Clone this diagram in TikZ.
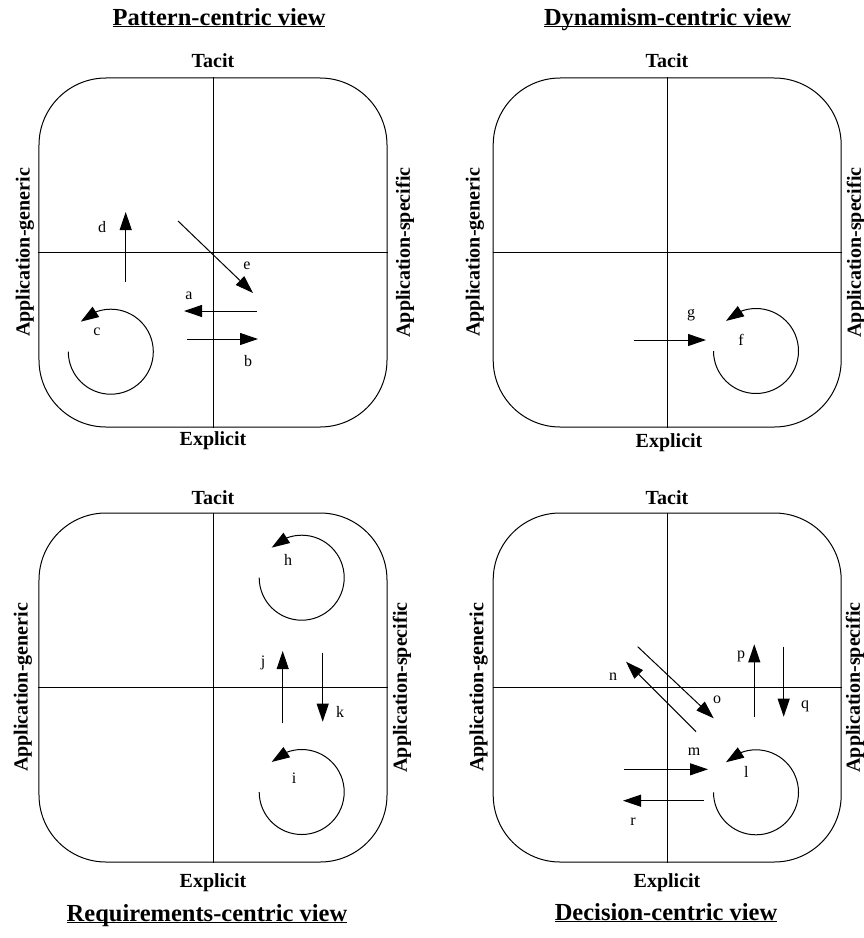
\documentclass[tikz,border=0pt]{standalone}
\usepackage{fontspec}
\setmainfont{Liberation Serif}
\usetikzlibrary{arrows.meta,bending}
\begin{document}
\begin{tikzpicture}[x=1bp,y=1bp,
  frame/.style={draw, line width=1bp, rounded corners=67bp, minimum width=348bp, minimum height=349bp, inner sep=0pt},
  axis/.style={line width=1bp},
  arr/.style={line width=1bp, -{Triangle[length=18bp,width=12bp]}},
  loop/.style={line width=1bp, -{Triangle[length=18bp,width=12bp,flex]}},
  ttl/.style={font=\fontsize{24.5bp}{28bp}\selectfont\bfseries, anchor=base, inner sep=0pt},
  lbl/.style={font=\fontsize{20bp}{24bp}\selectfont\bfseries, inner sep=0pt},
  side/.style={lbl, rotate=90},
  let/.style={font=\fontsize{16bp}{19bp}\selectfont, inner sep=0pt}]
\useasboundingbox (0,0) rectangle (864,-938);

% ---------- Panel 1: Pattern-centric view ----------
\node[ttl] (t1) at (219,-25) {\underline{\smash{Pattern-centric view}}};
\node[frame] (box1) at (213,-252.5) {};
\draw[axis] (box1.north) -- (box1.south);
\draw[axis] (box1.west) -- (box1.east);
\node[lbl] (tac1) at (213,-61) {Tacit};
\node[lbl] (exp1) at (213,-441) {Explicit};
\node[side] (gen1) at (25,-252.5) {Application-generic};
\node[side] (spe1) at (405,-252.5) {Application-specific};
\coordinate (d1) at (125.7,-281.7); \coordinate (d2) at (125.7,-212);
\draw[arr] (d1) -- (d2);
\node[let] (ld) at (102,-227) {d};
\coordinate (e1) at (178,-221); \coordinate (e2) at (253,-293);
\draw[arr] (e1) -- (e2);
\node[let] (le) at (247,-266) {e};
\coordinate (a1) at (257,-311); \coordinate (a2) at (184,-311);
\draw[arr] (a1) -- (a2);
\node[let] (la) at (189,-296) {a};
\coordinate (b1) at (187,-339); \coordinate (b2) at (258,-339);
\draw[arr] (b1) -- (b2);
\node[let] (lb) at (248,-361) {b};
\coordinate (cc) at (110.8,-351.7);
\draw[loop] (cc) ++(180:42.5) arc[start angle=180, end angle=495, radius=42.5];
\node[let] (lc) at (97,-332) {c};

% ---------- Panel 2: Dynamism-centric view ----------
\node[ttl] (t2) at (667.5,-25) {\underline{\smash{Dynamism-centric view}}};
\node[frame] (box2) at (667.2,-252.5) {};
\draw[axis] (box2.north) -- (box2.south);
\draw[axis] (box2.west) -- (box2.east);
\node[lbl] (tac2) at (667,-61) {Tacit};
\node[lbl] (exp2) at (669,-443) {Explicit};
\node[side] (gen2) at (475,-252.5) {Application-generic};
\node[side] (spe2) at (856,-252.5) {Application-specific};
\coordinate (g1) at (633.7,-340); \coordinate (g2) at (706,-340);
\draw[arr] (g1) -- (g2);
\node[let] (lg) at (691,-315) {g};
\coordinate (fc) at (756,-351);
\draw[loop] (fc) ++(180:42.5) arc[start angle=180, end angle=495, radius=42.5];
\node[let] (lf) at (741,-340) {f};

% ---------- Panel 3: Requirements-centric view ----------
\node[ttl] (t3) at (207,-921) {\underline{\smash{Requirements-centric view}}};
\node[frame] (box3) at (213,-687.5) {};
\draw[axis] (box3.north) -- (box3.south);
\draw[axis] (box3.west) -- (box3.east);
\node[lbl] (tac3) at (213,-498) {Tacit};
\node[lbl] (exp3) at (213,-883) {Explicit};
\node[side] (gen3) at (23,-687.5) {Application-generic};
\node[side] (spe3) at (402,-687.5) {Application-specific};
\coordinate (hc) at (301.7,-577.7);
\draw[loop] (hc) ++(180:42.5) arc[start angle=180, end angle=495, radius=42.5];
\node[let] (lh) at (288,-560) {h};
\coordinate (ic) at (301.7,-792);
\draw[loop] (ic) ++(180:42.5) arc[start angle=180, end angle=495, radius=42.5];
\node[let] (li) at (294,-778) {i};
\coordinate (j1) at (282.7,-723); \coordinate (j2) at (282.7,-651);
\draw[arr] (j1) -- (j2);
\node[let] (lj) at (263,-663) {j};
\coordinate (k1) at (322.7,-652.7); \coordinate (k2) at (322.7,-721.7);
\draw[arr] (k1) -- (k2);
\node[let] (lk) at (340,-712) {k};

% ---------- Panel 4: Decision-centric view ----------
\node[ttl] (t4) at (666,-920) {\underline{\smash{Decision-centric view}}};
\node[frame] (box4) at (667.2,-687.5) {};
\draw[axis] (box4.north) -- (box4.south);
\draw[axis] (box4.west) -- (box4.east);
\node[lbl] (tac4) at (667,-498) {Tacit};
\node[lbl] (exp4) at (667,-883) {Explicit};
\node[side] (gen4) at (478.7,-687.5) {Application-generic};
\node[side] (spe4) at (855,-687.5) {Application-specific};
\coordinate (n1) at (696,-731.7); \coordinate (n2) at (626,-661.7);
\draw[arr] (n1) -- (n2);
\node[let] (ln) at (613,-677) {n};
\coordinate (o1) at (637.7,-646.7); \coordinate (o2) at (713.7,-718.3);
\draw[arr] (o1) -- (o2);
\node[let] (lo) at (717,-700) {o};
\coordinate (p1) at (754.3,-717.3); \coordinate (p2) at (754.3,-644.3);
\draw[arr] (p1) -- (p2);
\node[let] (lp) at (741,-656.7) {p};
\coordinate (q1) at (783.7,-646.7); \coordinate (q2) at (783.7,-716.7);
\draw[arr] (q1) -- (q2);
\node[let] (lq) at (805,-706.7) {q};
\coordinate (m1) at (624.3,-769.3); \coordinate (m2) at (708,-769.3);
\draw[arr] (m1) -- (m2);
\node[let] (lm) at (694,-752) {m};
\coordinate (r1) at (703.7,-800.7); \coordinate (r2) at (623,-800.7);
\draw[arr] (r1) -- (r2);
\node[let] (lr) at (633,-821.7) {r};
\coordinate (lcc) at (756,-792.3);
\draw[loop] (lcc) ++(180:42.5) arc[start angle=180, end angle=495, radius=42.5];
\node[let] (ll) at (746.3,-771.7) {l};
\end{tikzpicture}
\end{document}
